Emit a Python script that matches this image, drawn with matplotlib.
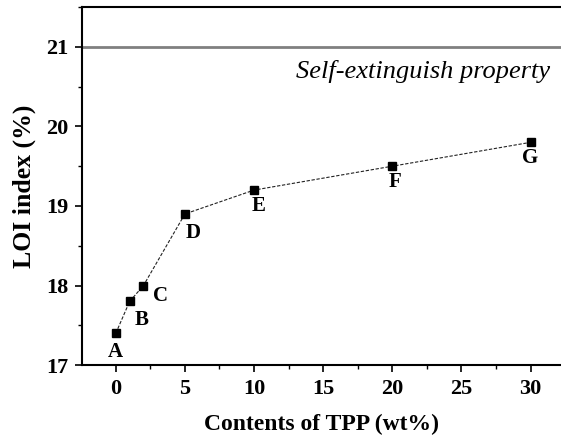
import matplotlib
matplotlib.use("Agg")
import matplotlib.pyplot as plt
from matplotlib.ticker import MultipleLocator

# TPP content (wt%) vs LOI index
tpp = [0, 1, 2, 5, 10, 20, 30]
loi = [17.4, 17.8, 18.0, 18.9, 19.2, 19.5, 19.8]
names = ["A", "B", "C", "D", "E", "F", "G"]
# label offsets (data units) relative to each point
label_dx = [0.0, 0.9, 1.2, 0.57, 0.35, 0.2, 0.0]
label_dy = [-0.23, -0.23, -0.13, -0.24, -0.2, -0.2, -0.2]
threshold = 21

plt.rcParams["font.family"] = "Liberation Serif"
plt.rcParams["font.weight"] = "bold"

fig = plt.figure(figsize=(5.61, 4.41), dpi=100)
ax = fig.add_axes([0.146, 0.172, 0.854, 0.812])

ax.axhline(threshold, color="#808080", lw=2)
ax.plot(tpp, loi, ls=(0, (3, 1.5)), lw=0.8, color="#222222",
        marker="s", ms=5.5, mfc="black", mec="black")

for x, y, n, dx, dy in zip(tpp, loi, names, label_dx, label_dy):
    ax.text(x + dx, y + dy, n, ha="center", va="center", fontsize=15, fontweight="bold")

ax.text(31.4, 20.69, "Self-extinguish property", ha="right", va="center",
        fontsize=19, style="italic", fontweight="normal")

ax.set_xlim(-2.45, 32.2)
ax.set_ylim(17, 21.5)
ax.xaxis.set_major_locator(MultipleLocator(5))
ax.xaxis.set_minor_locator(MultipleLocator(2.5))
ax.yaxis.set_major_locator(MultipleLocator(1))
ax.yaxis.set_minor_locator(MultipleLocator(0.5))
ax.tick_params(which="major", direction="out", length=5, width=1.2, labelsize=16, pad=5)
ax.tick_params(which="minor", direction="out", length=3, width=1)
ax.spines["right"].set_visible(False)
for s in ["left", "bottom", "top"]:
    ax.spines[s].set_linewidth(1.5)

ax.set_xlabel("Contents of TPP (wt%)", fontsize=17, fontweight="bold", labelpad=11)
ax.set_ylabel("LOI index (%)", fontsize=18.5, fontweight="bold", labelpad=7)

fig.savefig("out.png", dpi=100)
